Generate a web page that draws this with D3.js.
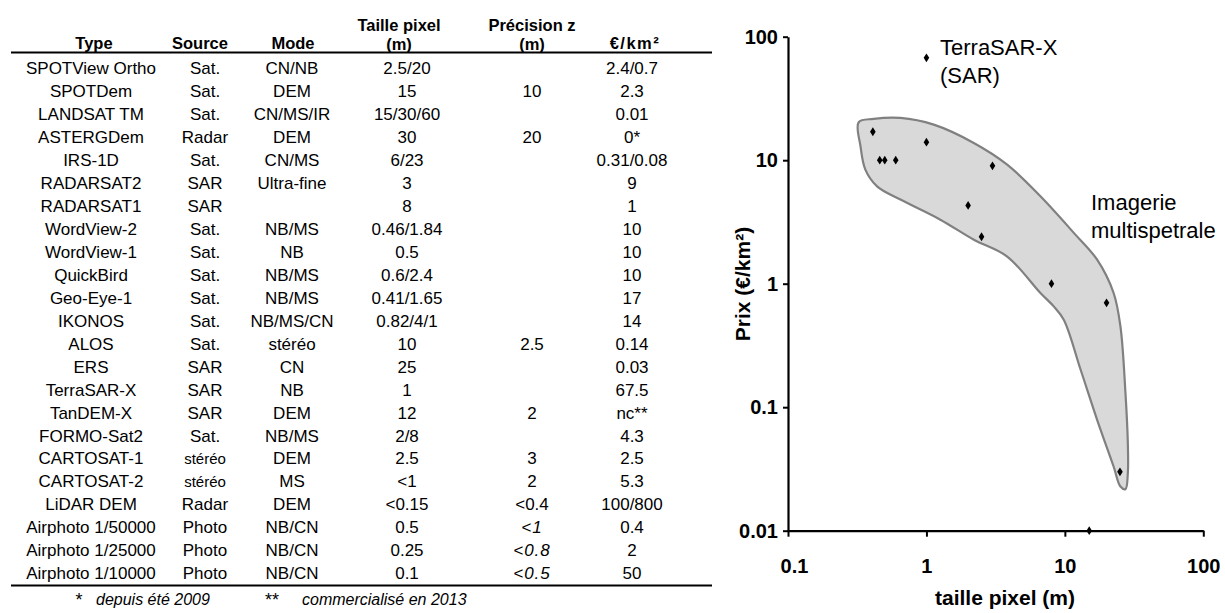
<!DOCTYPE html>
<html><head><meta charset="utf-8">
<script src="https://cdn.jsdelivr.net/npm/d3@7/dist/d3.min.js"></script>
<style>
html,body{margin:0;padding:0;background:#fff;}
svg text{font-family:"Liberation Sans",Arial,Helvetica,sans-serif;fill:#000;}
</style></head>
<body>
<svg id="c" width="1225" height="613"></svg>
<script>
// ---------- table data ----------
const types = ["SPOTView Ortho","SPOTDem","LANDSAT TM","ASTERGDem","IRS-1D","RADARSAT2","RADARSAT1","WordView-2","WordView-1","QuickBird","Geo-Eye-1","IKONOS","ALOS","ERS","TerraSAR-X","TanDEM-X","FORMO-Sat2","CARTOSAT-1","CARTOSAT-2","LiDAR DEM","Airphoto 1/50000","Airphoto 1/25000","Airphoto 1/10000"];
const sources = ["Sat.","Sat.","Sat.","Radar","Sat.","SAR","SAR","Sat.","Sat.","Sat.","Sat.","Sat.","Sat.","SAR","SAR","SAR","Sat.","stéréo","stéréo","Radar","Photo","Photo","Photo"];
const modes = ["CN/NB","DEM","CN/MS/IR","DEM","CN/MS","Ultra-fine","","NB/MS","NB","NB/MS","NB/MS","NB/MS/CN","stéréo","CN","NB","DEM","NB/MS","DEM","MS","DEM","NB/CN","NB/CN","NB/CN"];
const pixelSizes = ["2.5/20","15","15/30/60","30","6/23","3","8","0.46/1.84","0.5","0.6/2.4","0.41/1.65","0.82/4/1","10","25","1","12","2/8","2.5","<1","<0.15","0.5","0.25","0.1"];
const zPrecisions = ["","10","","20","","","","","","","","","2.5","","","2","","3","2","<0.4","<1","<0.8","<0.5"];
const pricesText = ["2.4/0.7","2.3","0.01","0*","0.31/0.08","9","1","10","10","10","17","14","0.14","0.03","67.5","nc**","4.3","2.5","5.3","100/800","0.4","2","50"];
const italicZ = [false,false,false,false,false,false,false,false,false,false,false,false,false,false,false,false,false,false,false,false,true,true,true];
const headers = [["Type"],["Source"],["Mode"],["Taille pixel","(m)"],["Précision z","(m)"],["€/km²"]];
const footnotes = [["*","depuis été 2009"],["**","commercialisé en 2013"]];

// ---------- chart data ----------
const pointPixel = [1, 0.41, 0.46, 0.5, 0.6, 1, 3, 2, 2.5, 8, 20, 25, 15];
const pointPrice = [67.5, 17, 10, 10, 10, 14, 9, 4.3, 2.4, 1, 0.7, 0.03, 0.01];
const hullPixel = [0.324,0.416,0.649,1.129,2.197,3.83,6.66,11.6,17.1,22.5,25.2,27.4,28.5,28.5,27.4,25.2,22.5,17.1,13.0,9.82,8.31,6.66,3.83,2.20,1.26,0.649,0.440,0.362,0.334];
const hullPrice = [20.3,21.6,22.0,19.4,13.8,9.21,5.10,2.58,1.565,0.841,0.451,0.130,0.0512,0.0292,0.0217,0.0228,0.0331,0.0791,0.201,0.511,0.655,0.841,1.66,2.27,3.30,4.80,6.14,8.39,12.97];
const xTicks = [0.1, 1, 10, 100];
const xTickLabels = ["0.1","1","10","100"];
const yTicks = [0.01, 0.1, 1, 10, 100];
const yTickLabels = ["0.01","0.1","1","10","100"];
const annotations = [["TerraSAR-X","(SAR)"],["Imagerie","multispetrale"]];
const xTitle = "taille pixel (m)";
const yTitle = "Prix (€/km²)";

const svg = d3.select("#c");

// ---------- table ----------
const colX = [91, 205, 292, 407, 532, 632];
const headX = [94, 200, 293, 399, 532, 635];
const rowY0 = 68.3, rowStep = 22.95, fs = 17;
const tbl = svg.append("g");
tbl.append("line").attr("x1",11).attr("x2",712).attr("y1",52.5).attr("y2",52.5).attr("stroke","#000").attr("stroke-width",2);
tbl.append("line").attr("x1",11).attr("x2",712).attr("y1",585.5).attr("y2",585.5).attr("stroke","#000").attr("stroke-width",2);
headers.forEach((h,i)=>{
  const lines = h.length===2 ? [24.5,44] : [43];
  h.forEach((t,j)=>{
    tbl.append("text").attr("x",headX[i]).attr("y",lines[j]+6).attr("text-anchor","middle")
      .attr("font-size",16.5).attr("font-weight","bold")
      .attr("letter-spacing", i===5 ? 1.5 : 0).text(t);
  });
});
const cols = [types, sources, modes, pixelSizes, zPrecisions, pricesText];
cols.forEach((col,ci)=>{
  tbl.selectAll(null).data(col).enter().append("text")
    .attr("x",colX[ci]).attr("y",(d,i)=>rowY0+i*rowStep+6)
    .attr("text-anchor","middle")
    .attr("font-size",(d)=> d==="stéréo" && ci===1 ? 15 : fs)
    .attr("font-style",(d,i)=> ci===4 && italicZ[i] ? "italic" : "normal")
    .attr("letter-spacing",(d,i)=> ci===4 && italicZ[i] ? 1 : 0)
    .text(d=>d);
});
// footnotes
tbl.append("text").attr("x",79).attr("y",605.5).attr("text-anchor","middle").attr("font-size",18).text(footnotes[0][0]);
tbl.append("text").attr("x",96).attr("y",605).attr("font-size",16).attr("font-style","italic").text(footnotes[0][1]);
tbl.append("text").attr("x",272).attr("y",605.5).attr("text-anchor","middle").attr("font-size",18).text(footnotes[1][0]);
tbl.append("text").attr("x",302).attr("y",605).attr("font-size",16).attr("font-style","italic").text(footnotes[1][1]);

// ---------- chart ----------
const x = d3.scaleLog().domain([0.1,100]).range([788,1203.3]);
const y = d3.scaleLog().domain([0.01,100]).range([530.7,36.7]);

const hull = hullPixel.map((v,i)=>[v,hullPrice[i]]);
svg.append("path").datum(hull)
  .attr("d", d3.line().x(d=>x(d[0])).y(d=>y(d[1])).curve(d3.curveCatmullRomClosed.alpha(0.5)))
  .attr("fill","#d9d9d9").attr("stroke","#808080").attr("stroke-width",2.2);

const yAxis = svg.append("g").attr("transform","translate(788,0)")
  .call(d3.axisLeft(y).tickValues(yTicks).tickFormat((d,i)=>yTickLabels[i]).tickSize(5).tickPadding(5).tickSizeOuter(0));
const xAxis = svg.append("g").attr("transform","translate(0,530.7)")
  .call(d3.axisBottom(x).tickValues(xTicks).tickFormat((d,i)=>xTickLabels[i]).tickSize(6).tickPadding(22).tickSizeOuter(0));
[xAxis,yAxis].forEach(a=>{
  a.select(".domain").attr("stroke","#000").attr("stroke-width",2.2);
  a.selectAll(".tick line").attr("stroke","#000").attr("stroke-width",2);
  a.selectAll(".tick text").attr("font-size",20).attr("font-weight","bold")
    .attr("font-family","'Liberation Sans',Arial,sans-serif").attr("fill","#000");
});
xAxis.selectAll(".tick text").attr("dx",(d,i)=> i===0 ? 6 : 0);

// points (diamonds)
const diamond = "M0,-4.4L2.8,0L0,4.4L-2.8,0Z";
svg.selectAll(null).data(pointPixel).enter().append("path")
  .attr("d",diamond)
  .attr("transform",(d,i)=>`translate(${x(d)},${y(pointPrice[i])})`)
  .attr("fill","#000");

// annotations
svg.append("text").attr("x",940).attr("y",54.5).attr("font-size",22).text(annotations[0][0]);
svg.append("text").attr("x",940).attr("y",83).attr("font-size",22).text(annotations[0][1]);
svg.append("text").attr("x",1091).attr("y",209.5).attr("font-size",22).text(annotations[1][0]);
svg.append("text").attr("x",1091).attr("y",237.5).attr("font-size",22).text(annotations[1][1]);

// axis titles
svg.append("text").attr("x",1005).attr("y",604.5).attr("text-anchor","middle")
  .attr("font-size",21).attr("font-weight","bold").text(xTitle);
svg.append("text").attr("transform","translate(749.5,284) rotate(-90)").attr("text-anchor","middle")
  .attr("font-size",21).attr("font-weight","bold").text(yTitle);
</script>
</body></html>
